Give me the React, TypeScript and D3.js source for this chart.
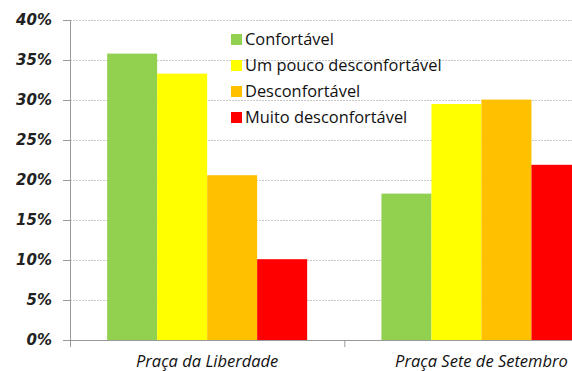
import React from "react";
import * as d3 from "d3";

const categories = ["Praça da Liberdade", "Praça Sete de Setembro"];
const seriesNames = ["Confortável", "Um pouco desconfortável", "Desconfortável", "Muito desconfortável"];
const colors = ["#92D050", "#FFFF00", "#FFC000", "#FF0000"];
const confortavel = [35.8, 18.3];
const umPouco = [33.3, 29.5];
const desconfortavel = [20.6, 30.05];
const muito = [10.1, 21.9];
const yTicks = [0, 5, 10, 15, 20, 25, 30, 35, 40];

const seriesValues = [confortavel, umPouco, desconfortavel, muito];

export default function App() {
  const W = 572, H = 371;
  const left = 70, top = 20, bottom = 340, right = 618.6;
  const x0 = d3.scaleBand<string>().domain(categories).range([left, right]).paddingInner(0).paddingOuter(0);
  const y = d3.scaleLinear().domain([0, 40]).range([bottom, top]);
  const groupW = 200;
  const x1 = d3.scaleBand<string>().domain(seriesNames).range([0, groupW]);
  const bw = x0.bandwidth();
  return (
    <svg width={W} height={H} style={{ position: "absolute", left: 0, top: 0 }}>
      <rect x={0} y={0} width={W} height={H} fill="#fff" />
      {yTicks.filter(t => t > 0).map(t => (
        <line key={t} x1={left} x2={W} y1={y(t) + 0.5} y2={y(t) + 0.5} stroke="#c8c8c8" strokeWidth={1} strokeDasharray="2,1" />
      ))}
      {categories.map((c, ci) => (
        <g key={c}>
          {seriesNames.map((s, si) => (
            <rect key={s}
              x={(x0(c) as number) + (bw - groupW) / 2 + (x1(s) as number)}
              y={y(seriesValues[si][ci])}
              width={x1.bandwidth()}
              height={bottom - y(seriesValues[si][ci])}
              fill={colors[si]} />
          ))}
        </g>
      ))}
      <line x1={left + 0.5} x2={left + 0.5} y1={top} y2={bottom + 7} stroke="#999" strokeWidth={1} />
      <line x1={left} x2={W} y1={bottom + 0.5} y2={bottom + 0.5} stroke="#999" strokeWidth={1} />
      {yTicks.map(t => (
        <g key={t}>
          <line x1={left - 7} x2={left} y1={y(t) + 0.5} y2={y(t) + 0.5} stroke="#999" />
          <text x={52} y={y(t)} dy="0.36em" textAnchor="end" fontFamily="DejaVu Sans" fontWeight="bold" fontStyle="italic" fontSize={15} fill="#222">{t}%</text>
        </g>
      ))}
      {categories.map((c, ci) => (
        <g key={c}>
          <line x1={(x0(c) as number) + bw + 0.5} x2={(x0(c) as number) + bw + 0.5} y1={bottom} y2={bottom + 7} stroke="#999" />
          <text x={(x0(c) as number) + bw / 2} y={367} textAnchor="middle" fontFamily="Open Sans" fontStyle="italic" fontSize={16.5} fill="#111">{c}</text>
        </g>
      ))}
      {seriesNames.map((s, si) => (
        <g key={s}>
          <rect x={231} y={34 + si * 26} width={11} height={11} fill={colors[si]} />
          <text x={245} y={44.5 + si * 26} fontFamily="Open Sans" fontSize={16.4} fill="#111">{s}</text>
        </g>
      ))}
    </svg>
  );
}
